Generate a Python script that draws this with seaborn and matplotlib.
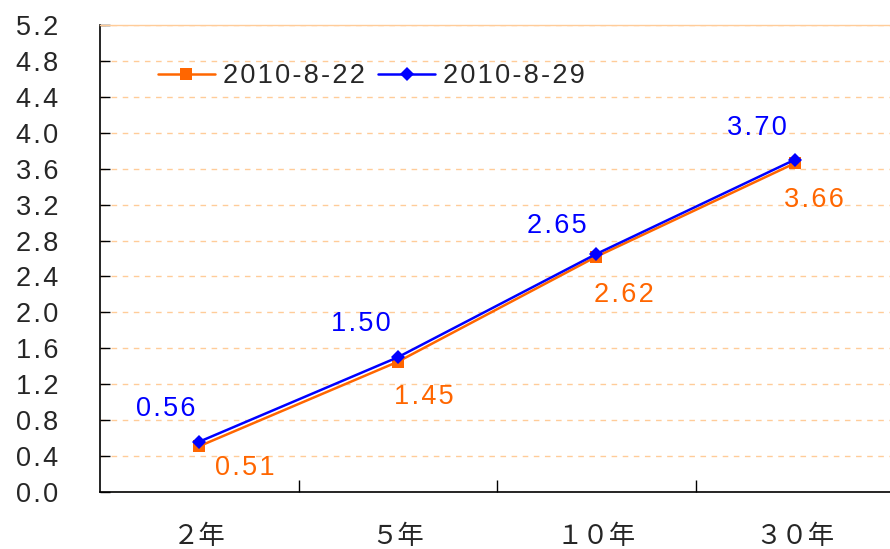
import matplotlib
matplotlib.use("Agg")
import matplotlib.pyplot as plt
import seaborn as sns
import pandas as pd

# ---- data ----
categories = ["2年", "5年", "10年", "30年"]
series_names = ["2010-8-22", "2010-8-29"]
values_0822 = [0.51, 1.45, 2.62, 3.66]
values_0829 = [0.56, 1.50, 2.65, 3.70]
y_ticks = [0.0, 0.4, 0.8, 1.2, 1.6, 2.0, 2.4, 2.8, 3.2, 3.6, 4.0, 4.4, 4.8, 5.2]

# ---- style ----
sns.set_style("white")
LAT = ["Liberation Sans", "DejaVu Sans"]
CJK = ["Noto Sans CJK SC", "DejaVu Sans"]
plt.rcParams["font.family"] = LAT
ORANGE = "#FF6600"
BLUE = "#0000FF"
GRID = "#FFCC99"
FS = 19.5
TS = "\u200a"  # letter spacing (hair space)
FULLWIDTH = str.maketrans("0123456789", "０１２３４５６７８９")


def spaced(s):
    return TS.join(list(s))


df = pd.DataFrame({
    "cat": categories * 2,
    "val": values_0822 + values_0829,
    "series": [series_names[0]] * 4 + [series_names[1]] * 4,
})

fig = plt.figure(figsize=(8.9, 5.49), dpi=100)
ax = fig.add_axes([100 / 890, 57 / 549, 794 / 890, 467 / 549])

sns.lineplot(data=df, x="cat", y="val", hue="series", style="series",
             palette=[ORANGE, BLUE], markers=["s", "D"], dashes=False,
             markersize=8, linewidth=1.8, markeredgewidth=0, sort=False,
             ax=ax, legend=True)
for ln in ax.lines:
    if ln.get_marker() == "D":
        ln.set_markersize(7.5)
    ln.set_zorder(3)

ax.set_xlim(-0.5, 3.5)
ax.set_ylim(0, 5.2)
ax.set_xlabel("")
ax.set_ylabel("")

# y axis
ax.set_yticks(y_ticks)
ax.set_yticklabels([spaced(f"{v:.1f}") for v in y_ticks], fontsize=FS, family=LAT)
ax.tick_params(axis="y", direction="in", length=7, width=1, color="black", pad=30, left=True)

# x axis: category labels at centers, ticks at boundaries
ax.set_xticks(range(len(categories)))
ax.set_xticklabels([c.translate(FULLWIDTH) for c in categories], fontsize=19, family=CJK)
ax.set_xticks([0.5, 1.5, 2.5], minor=True)
ax.tick_params(axis="x", which="major", length=0, pad=22)
ax.tick_params(axis="x", which="minor", direction="in", length=9, width=1, color="black", bottom=True)

# grid
ax.yaxis.grid(True, color=GRID, linestyle=(0, (4, 4)), linewidth=1)
ax.xaxis.grid(False)
ax.set_axisbelow(True)

for side in ["left", "bottom"]:
    ax.spines[side].set_color("black")
    ax.spines[side].set_linewidth(1.2)
ax.spines["top"].set_color(GRID)
ax.spines["top"].set_linewidth(1)
ax.spines["right"].set_visible(False)

# data labels
off_0822 = [(46, -22), (26, -35), (28, -38), (19, -37)]
off_0829 = [(-34, 33), (-37, 33), (-39, 28), (-38, 32)]
for i, v in enumerate(values_0822):
    ax.annotate(spaced(f"{v:.2f}"), (i, v), xytext=off_0822[i], textcoords="offset pixels",
                ha="center", va="center", fontsize=FS, color=ORANGE, family=LAT)
for i, v in enumerate(values_0829):
    ax.annotate(spaced(f"{v:.2f}"), (i, v), xytext=off_0829[i], textcoords="offset pixels",
                ha="center", va="center", fontsize=FS, color=BLUE, family=LAT)

# legend
handles, labels = ax.get_legend_handles_labels()
leg = ax.legend(handles, [spaced(l) for l in labels], ncol=2, frameon=False,
                loc="center left", bbox_to_anchor=(158 / 890, 1 - 76 / 549),
                bbox_transform=fig.transFigure, borderpad=0, borderaxespad=0,
                handlelength=2.1, handletextpad=0.3, columnspacing=0.5,
                prop={"family": LAT, "size": FS})

fig.savefig("out.png", dpi=100)
